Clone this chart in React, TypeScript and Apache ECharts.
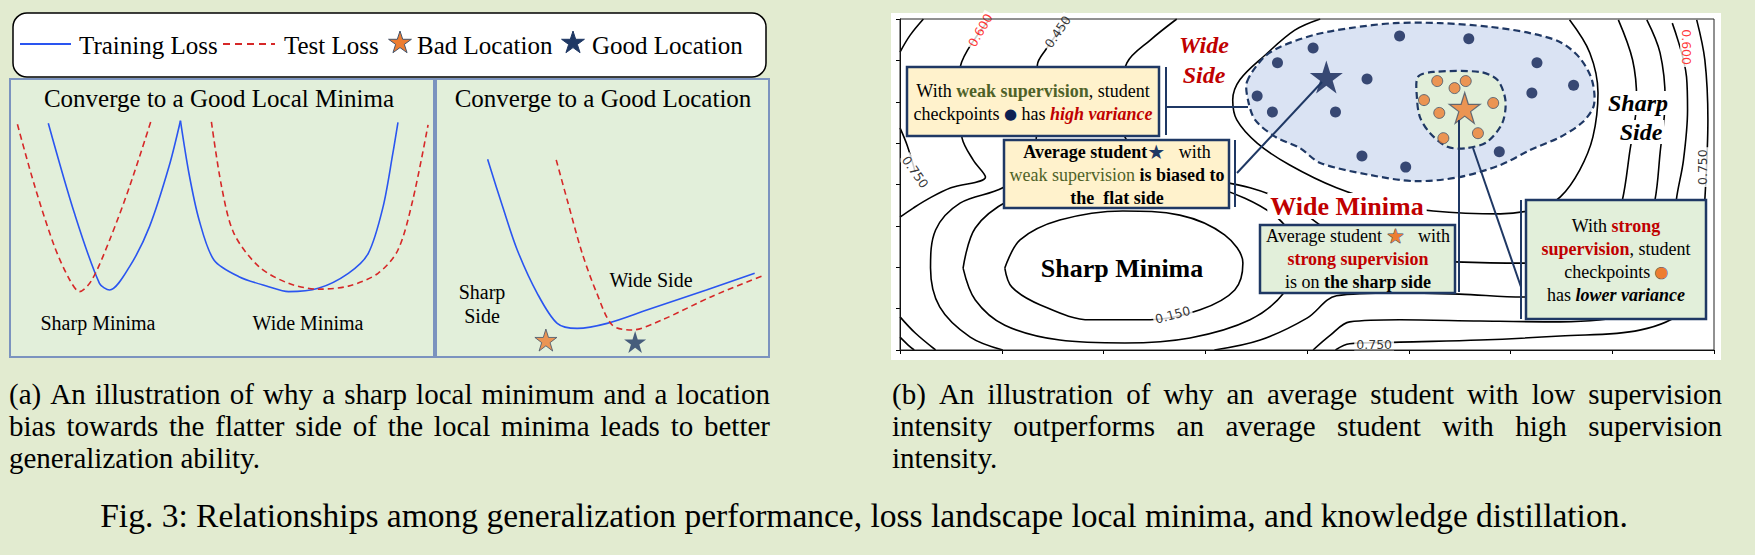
import React, { useEffect, useRef } from 'react';
import * as echarts from 'echarts';

// star outline used for markers, legend icons
const STAR_D = 'M50 0 L61.23 34.55 L97.55 34.55 L68.16 55.9 L79.39 90.45 L50 69.1 L20.61 90.45 L31.84 55.9 L2.45 34.55 L38.77 34.55 Z';
echarts.graphic.registerShape('star5', echarts.graphic.extendPath(STAR_D, {}));

const SERIF = '"Liberation Serif", "Times New Roman", serif';
const BG = '#e2ebd0';
const PANEL = '#e2efda';
const PANEL_EDGE = '#7b93bf';
const NAVY = '#1f3864';
const DOT = '#0e2152';
const ORANGE = '#ed7d31';
const RED = '#c00000';
const GREEN_TXT = '#4f6228';
const BLUE = '#2a55f0';
const DASH_RED = '#d62828';

// ---- panel (a), left: sharp vs wide minima (x, y in 0..100)
const trainSharp = [[9.03, 84.1], [15.2, 51.7], [21.1, 26.5], [23.5, 24.1], [28.2, 32.5], [32.9, 46.9], [37.5, 68.5], [40.2, 85.0]];
const trainWide = [[40.2, 85.0], [42.2, 66.1], [44.6, 49.3], [48.1, 34.9], [54.0, 28.9], [61.0, 25.3], [65.7, 23.5], [72.7, 24.7], [79.8, 30.1], [84.5, 37.3], [88.0, 54.1], [90.3, 73.3], [91.5, 84.4]];
const testSharp = [[1.75, 83.7], [5.86, 61.3], [10.5, 39.7], [14.1, 27.7], [16.4, 23.5], [19.3, 27.7], [23.5, 42.1], [28.2, 61.3], [33.2, 84.6]];
const testWide = [[47.5, 84.6], [49.9, 61.3], [52.8, 44.5], [58.7, 32.5], [65.7, 26.5], [72.7, 24.4], [79.8, 25.5], [86.8, 30.1], [91.5, 38.5], [95.0, 56.5], [98.6, 83.5]];

// ---- panel (a), right: location within the minimum
const trainLoc = [[15.5, 71.1], [20.0, 54.1], [24.4, 38.5], [30.4, 22.9], [36.4, 12.1], [42.4, 10.3], [51.4, 12.1], [63.3, 16.9], [81.2, 24.1], [95.7, 30.1]];
const testLoc = [[36.1, 70.9], [39.4, 56.5], [43.9, 37.3], [48.3, 22.9], [52.9, 11.5], [58.8, 9.7], [67.8, 13.3], [82.7, 21.7], [98.7, 29.5]];
const badLocation = [[33.0, 6.1]];
const goodLocation = [[59.8, 5.4]];

// ---- panel (b): loss landscape contours (x, y in 0..8)
const cSharp150 = [[1.03, 1.98], [1.18, 2.66], [1.57, 3.14], [2.19, 3.36], [2.75, 3.26], [3.19, 2.78], [3.37, 2.1], [3.29, 1.45], [2.95, 0.97], [2.46, 0.73], [1.87, 0.73], [1.38, 1.09], [1.1, 1.52], [1.03, 1.98]];
const cSharpRing = [[0.62, 1.98], [0.74, 2.95], [1.08, 3.63], [1.57, 4.04], [2.21, 4.18], [2.85, 4.06], [3.39, 3.67], [3.78, 3.02], [3.9, 2.18], [3.78, 1.4], [3.44, 0.73], [2.85, 0.29], [2.21, 0.17], [1.57, 0.24], [1.03, 0.6], [0.74, 1.21], [0.62, 1.98]];
const cLeft450 = [[1.65, 8.0], [1.43, 7.25], [1.35, 6.89], [1.34, 6.04], [1.34, 5.15], [1.18, 4.35], [1.01, 3.92], [0.59, 3.55], [0.35, 2.9], [0.3, 1.98], [0.39, 1.04], [0.69, 0.31], [1.01, 0]];
const cMiddle = [[2.72, 8.0], [2.46, 7.49], [2.23, 6.94], [2.16, 6.04], [2.21, 5.15], [2.46, 4.47], [2.95, 4.16], [3.44, 3.92], [3.83, 3.55], [4.13, 3.02], [4.52, 2.42], [4.91, 2.2], [5.45, 2.13], [6.12, 2.1], [6.68, 2.3], [7.0, 2.9], [7.1, 3.63], [7.17, 4.76], [7.24, 6.04], [7.2, 7.01], [7.06, 7.98]];
const cWideInner = [[4.13, 8.0], [3.88, 7.73], [3.59, 7.13], [3.34, 6.53], [3.27, 6.04], [3.31, 5.56], [3.51, 5.0], [3.83, 4.47], [4.29, 3.92], [4.77, 3.55], [5.24, 3.36], [5.9, 3.29], [6.29, 3.43], [6.49, 3.7], [6.68, 4.35], [6.81, 5.15], [6.86, 6.21], [6.78, 7.18], [6.58, 7.98]];
const cOuter1 = [[3.09, 0], [3.54, 0.24], [4.0, 0.77], [4.29, 1.31], [4.85, 1.38], [5.5, 1.35], [6.12, 1.28], [6.78, 1.45], [7.27, 2.18], [7.42, 3.63], [7.47, 4.76], [7.52, 6.04], [7.47, 7.18], [7.34, 7.98]];
const cOuter2 = [[4.06, 0], [4.23, 0.36], [4.42, 0.68], [4.91, 0.73], [5.7, 0.7], [6.49, 0.68], [7.17, 0.85], [7.47, 1.33], [7.59, 2.42], [7.63, 3.63], [7.7, 4.59], [7.74, 5.8], [7.73, 6.6], [7.59, 7.9]];
const cOuter3 = [[4.28, 0], [4.42, 0.15], [4.91, 0.19], [5.7, 0.24], [6.49, 0.34], [7.27, 0.48], [7.71, 0.97], [7.86, 1.93], [7.91, 3.63], [7.94, 5.56], [7.91, 7.01], [7.83, 7.98]];
const cLeft600 = [[0.88, 8.0], [0.67, 7.27], [0.59, 6.77], [0.59, 5.8], [0.61, 5.12], [0.72, 4.59], [0.84, 4.18], [0.5, 3.92], [0.29, 3.67], [0.13, 3.43], [0, 3.21]];
const cLeft750 = [[0, 5.37], [0.07, 4.95], [0.15, 4.3]];
const cCornerTL = [[0, 7.2], [0.1, 7.61], [0.23, 8.0]];
const cCornerBL1 = [[0, 0.8], [0.15, 0.41], [0.35, 0]];
const cCornerBL2 = [[0, 0.31], [0.08, 0.12], [0.14, 0]];
const contours = [cSharp150, cSharpRing, cLeft450, cMiddle, cWideInner, cOuter1, cOuter2, cOuter3, cLeft600, cLeft750, cCornerTL, cCornerBL1, cCornerBL2];

const labelPos = [[0.79, 7.73], [1.55, 7.69], [0.15, 4.3], [2.68, 0.85], [4.66, 0.14], [7.73, 7.32], [7.89, 4.42]];
const labelText = ['0.600', '0.450', '0.750', '0.150', '0.750', '0.600', '0.750'];
const labelAngle = [60, 55, -55, 15, 0, -90, 90];
const labelRed = [true, false, false, false, false, true, false];

// weak-supervision region and checkpoints
const weakRegion = [[3.41, 6.48], [3.57, 7.06], [3.73, 7.32], [4.06, 7.61], [4.42, 7.78], [4.86, 7.9], [5.31, 7.9], [5.8, 7.81], [6.19, 7.66], [6.49, 7.44], [6.68, 7.06], [6.8, 6.53], [6.82, 5.92], [6.71, 5.51], [6.49, 5.15], [6.19, 4.83], [5.9, 4.47], [5.5, 4.18], [5.06, 4.08], [4.62, 4.23], [4.13, 4.52], [3.93, 4.88], [3.69, 5.15], [3.49, 5.56], [3.42, 6.04]];
const weakPoints = [[4.06, 7.3], [3.71, 6.94], [3.51, 6.14], [3.66, 5.75], [4.59, 6.55], [4.28, 5.75], [4.91, 7.59], [5.59, 7.52], [6.26, 6.94], [6.21, 6.21], [6.62, 6.4], [4.54, 4.69], [4.97, 4.42], [5.89, 4.79]];
const weakAverage = [[4.19, 6.6]];
// strong-supervision region and checkpoints
const strongRegion = [[5.09, 6.6], [5.24, 6.72], [5.7, 6.72], [5.87, 6.53], [5.95, 6.04], [5.92, 5.49], [5.77, 5.03], [5.57, 4.88], [5.38, 4.91], [5.21, 5.24], [5.11, 5.63], [5.08, 6.11]];
const strongPoints = [[5.28, 6.5], [5.45, 6.33], [5.56, 6.5], [5.15, 6.04], [5.3, 5.73], [5.83, 5.97], [5.34, 5.12], [5.68, 5.24]];
const strongAverage = [[5.55, 5.85]];

const captionA = ['(a) An illustration of why a sharp local minimum and a location', 'bias towards the flatter side of the local minima leads to better', 'generalization ability.'];
const captionB = ['(b) An illustration of why an average student with low supervision', 'intensity outperforms an average student with high supervision', 'intensity.'];
const figCaption = 'Fig. 3: Relationships among generalization performance, loss landscape local minima, and knowledge distillation.';

export default function App() {
    const chartRef = useRef<HTMLDivElement | null>(null);

    useEffect(() => {
        document.body.style.margin = '0';
        if (!chartRef.current) return;
        const chart = echarts.init(chartRef.current, null, { renderer: 'svg' });

        const ctx = document.createElement('canvas').getContext('2d')!;
        const measure = (s: string, size: number) => {
            ctx.font = `${size}px "Liberation Serif"`;
            return ctx.measureText(s).width;
        };
        // justified caption lines, one text per word
        const captionLine = (line: string, x0: number, x1: number, y: number, size: number, justify: boolean) => {
            const words = line.split(' ');
            const widths = words.map(w => measure(w, size));
            const total = widths.reduce((a, b) => a + b, 0);
            const gap = justify && words.length > 1 ? (x1 - x0 - total) / (words.length - 1) : measure(' ', size);
            let x = x0;
            return words.map((w, i) => {
                const el = { type: 'text', x, y, z: 20, style: { text: w, fontSize: size, fontFamily: SERIF, fill: '#000', align: 'left', verticalAlign: 'middle' } };
                x += widths[i] + gap;
                return el;
            });
        };

        const txt = (x: number, y: number, text: string, size: number, extra: any = {}) => ({
            type: 'text', x, y, z: 20,
            style: { text, fontSize: size, fontFamily: SERIF, fill: '#000', align: 'center', verticalAlign: 'middle', ...extra },
        });
        const box = (x: number, y: number, w: number, h: number, fill: string) => ({
            type: 'rect', z: 15, shape: { x, y, width: w, height: h }, style: { fill, stroke: NAVY, lineWidth: 2.5 },
        });
        const link = (x1: number, y1: number, x2: number, y2: number) => ({
            type: 'line', z: 16, shape: { x1, y1, x2, y2 }, style: { stroke: NAVY, lineWidth: 2 },
        });
        const star = (cx: number, cy: number, size: number, fill: string, stroke: string) => ({
            type: 'star5', z: 20, x: cx - size / 2, y: cy - size / 2, scaleX: size / 100, scaleY: size / 100,
            style: { fill, stroke, lineWidth: 1, strokeNoScale: true },
        });

        const rs = { fontSize: 18, fontFamily: SERIF, lineHeight: 23 };
        const rich = {
            r: { ...rs, fill: '#000' },
            b: { ...rs, fill: '#000', fontWeight: 'bold' },
            g: { ...rs, fill: GREEN_TXT, fontWeight: 'bold' },
            gr: { ...rs, fill: GREEN_TXT },
            br: { ...rs, fill: RED, fontWeight: 'bold' },
            hv: { ...rs, fill: RED, fontWeight: 'bold', fontStyle: 'italic' },
            bi: { ...rs, fill: '#000', fontWeight: 'bold', fontStyle: 'italic' },
            dot: { ...rs, fontSize: 15, fontFamily: 'DejaVu Sans', fill: DOT },
            od: { ...rs, fontSize: 15, fontFamily: 'DejaVu Sans', fill: ORANGE, stroke: '#44546a', lineWidth: 1 },
            st: { ...rs, fontSize: 20, fontFamily: 'DejaVu Sans', fill: NAVY },
            os: { ...rs, fontSize: 20, fontFamily: 'DejaVu Sans', fill: ORANGE, stroke: '#44546a', lineWidth: 1 },
        };
        const richText = (x: number, y: number, text: string) => ({
            type: 'text', x, y, z: 20, style: { text, rich, align: 'center', verticalAlign: 'middle' },
        });

        const polygonSeries = (points: number[][], fill: string) => ({
            type: 'custom', xAxisIndex: 2, yAxisIndex: 2, z: 3, data: points,
            renderItem: (params: any, api: any) => {
                if (params.dataIndex !== 0) return null;
                return {
                    type: 'polygon',
                    shape: { points: points.map(p => api.coord(p)), smooth: 0.3 },
                    style: { fill, stroke: NAVY, lineWidth: 2.2, lineDash: [7, 4] },
                };
            },
        });

        const lossLine = (name: string, data: number[][], grid: number, dashed: boolean) => ({
            name, type: 'line', xAxisIndex: grid, yAxisIndex: grid, data, smooth: 0.3, symbol: 'none',
            lineStyle: { color: dashed ? DASH_RED : BLUE, width: 1.6, type: dashed ? [6, 4] : 'solid' },
        });

        const hiddenAxis = (gridIndex: number) => ({ type: 'value', gridIndex, min: 0, max: 100, show: false });
        const contourAxis = (gridIndex: number) => ({
            type: 'value', gridIndex, min: 0, max: 8, interval: 1,
            axisLine: { show: true, lineStyle: { color: '#000', width: 1 } },
            axisTick: { show: true, inside: false, length: 4, lineStyle: { color: '#000' } },
            axisLabel: { show: false }, splitLine: { show: false },
        });

        const option = {
            animation: false,
            backgroundColor: BG,
            grid: [
                { left: 10, top: 79, width: 424, height: 278, show: true, backgroundColor: PANEL, borderColor: PANEL_EDGE, borderWidth: 2 },
                { left: 436, top: 79, width: 333, height: 278, show: true, backgroundColor: PANEL, borderColor: PANEL_EDGE, borderWidth: 2 },
                { left: 900, top: 19, width: 814, height: 331 },
            ],
            xAxis: [hiddenAxis(0), hiddenAxis(1), contourAxis(2)],
            yAxis: [hiddenAxis(0), hiddenAxis(1), contourAxis(2)],
            series: [
                lossLine('Training Loss', trainSharp, 0, false),
                lossLine('Training Loss', trainWide, 0, false),
                lossLine('Test Loss', testSharp, 0, true),
                lossLine('Test Loss', testWide, 0, true),
                lossLine('Training Loss', trainLoc, 1, false),
                lossLine('Test Loss', testLoc, 1, true),
                {
                    name: 'Bad Location', type: 'scatter', xAxisIndex: 1, yAxisIndex: 1, data: badLocation,
                    symbol: 'path://' + STAR_D, symbolSize: 22, itemStyle: { color: ORANGE, borderColor: '#44546a', borderWidth: 1 },
                },
                {
                    name: 'Good Location', type: 'scatter', xAxisIndex: 1, yAxisIndex: 1, data: goodLocation,
                    symbol: 'path://' + STAR_D, symbolSize: 22, itemStyle: { color: NAVY },
                },
                ...contours.map((c, i) => ({
                    name: 'contour' + i, type: 'line', xAxisIndex: 2, yAxisIndex: 2, data: c, smooth: 0.35,
                    symbol: 'none', z: 2, lineStyle: { color: '#000', width: 1.6 },
                })),
                {
                    name: 'contour labels', type: 'scatter', xAxisIndex: 2, yAxisIndex: 2, z: 3, symbolSize: 1,
                    itemStyle: { color: 'rgba(0,0,0,0)' },
                    data: labelPos.map((p, i) => ({
                        value: p,
                        label: { rotate: labelAngle[i], color: labelRed[i] ? '#ff0000' : '#000' },
                    })),
                    label: {
                        show: true, position: 'inside', fontSize: 12.5, fontFamily: 'DejaVu Sans',
                        backgroundColor: '#fff', padding: [0, 2],
                        formatter: (p: any) => labelText[p.dataIndex],
                    },
                },
                polygonSeries(weakRegion, '#dae3f3'),
                polygonSeries(strongRegion, '#e2efda'),
                {
                    name: 'weak checkpoints', type: 'scatter', xAxisIndex: 2, yAxisIndex: 2, z: 4, data: weakPoints,
                    symbolSize: 11, itemStyle: { color: DOT },
                },
                {
                    name: 'strong checkpoints', type: 'scatter', xAxisIndex: 2, yAxisIndex: 2, z: 4, data: strongPoints,
                    symbolSize: 11, itemStyle: { color: ORANGE, borderColor: '#44546a', borderWidth: 1 },
                },
                {
                    name: 'weak average', type: 'scatter', xAxisIndex: 2, yAxisIndex: 2, z: 5, data: weakAverage,
                    symbol: 'path://' + STAR_D, symbolSize: 33, itemStyle: { color: DOT },
                },
                {
                    name: 'strong average', type: 'scatter', xAxisIndex: 2, yAxisIndex: 2, z: 5, data: strongAverage,
                    symbol: 'path://' + STAR_D, symbolSize: 31, itemStyle: { color: ORANGE, borderColor: '#44546a', borderWidth: 1.2 },
                },
            ],
            graphic: [
                // panel (b) white backdrop and frame
                { type: 'rect', z: -1, shape: { x: 891, y: 13, width: 830, height: 347 }, style: { fill: '#fff' } },
                { type: 'rect', z: 6, shape: { x: 900, y: 19, width: 814, height: 331 }, style: { fill: 'none', stroke: '#222', lineWidth: 1 } },

                // legend
                { type: 'rect', z: 1, shape: { x: 13, y: 13, width: 753, height: 64, r: 14 }, style: { fill: '#fff', stroke: '#000', lineWidth: 1.5 } },
                { type: 'line', z: 20, shape: { x1: 20, y1: 44, x2: 71, y2: 44 }, style: { stroke: BLUE, lineWidth: 2 } },
                txt(79, 45, 'Training Loss', 25, { align: 'left' }),
                { type: 'line', z: 20, shape: { x1: 223, y1: 44, x2: 275, y2: 44 }, style: { stroke: DASH_RED, lineWidth: 2, lineDash: [7, 5] } },
                txt(284, 45, 'Test Loss', 25, { align: 'left' }),
                star(400, 43, 24, ORANGE, '#44546a'),
                txt(417, 45, 'Bad Location', 25, { align: 'left' }),
                star(573, 43, 24, NAVY, NAVY),
                txt(592, 45, 'Good Location', 25, { align: 'left' }),

                // panel (a) texts
                txt(219, 98, 'Converge to a Good Local Minima', 25),
                txt(603, 98, 'Converge to a Good Location', 25),
                txt(98, 323, 'Sharp Minima', 20),
                txt(308, 323, 'Wide Minima', 20),
                txt(482, 292, 'Sharp', 20),
                txt(482, 316, 'Side', 20),
                txt(651, 280, 'Wide Side', 20),

                // panel (b) region names
                txt(1204, 45, 'Wide', 24, { fill: RED, fontWeight: 'bold', fontStyle: 'italic' }),
                txt(1204, 75, 'Side', 24, { fill: RED, fontWeight: 'bold', fontStyle: 'italic' }),
                txt(1638, 103, 'Sharp', 24, { fontWeight: 'bold', fontStyle: 'italic', backgroundColor: '#fff', padding: [0, 2] }),
                txt(1641, 132, 'Side', 24, { fontWeight: 'bold', fontStyle: 'italic', backgroundColor: '#fff', padding: [0, 2] }),
                txt(1347, 206, 'Wide Minima', 26, { fill: RED, fontWeight: 'bold', backgroundColor: '#fff', padding: [0, 3] }),
                txt(1122, 268, 'Sharp Minima', 26, { fontWeight: 'bold' }),

                // annotation boxes
                box(907, 67, 252, 69, '#fff2cc'),
                richText(1033, 102, '{r|With }{g|weak supervision}{r|, student}\n{r|checkpoints }{dot|●}{r| has }{hv|high variance}'),
                box(1004, 140, 225, 68, '#fff2cc'),
                richText(1117, 175, '{b|Average student}{st|★}{r|   with}\n{gr|weak supervision}{b| is biased to}\n{b|the  flat side}'),
                box(1260, 225, 195, 68, '#e2efda'),
                richText(1358, 259, '{r|Average student }{os|★}{r|   with}\n{br|strong supervision}\n{r|is on }{b|the sharp side}'),
                box(1526, 200, 180, 119, '#e2efda'),
                richText(1616, 260, '{r|With }{br|strong}\n{br|supervision}{r|, student}\n{r|checkpoints }{od|●}\n{r|has }{bi|lower variance}'),

                // connectors
                link(1166, 67, 1166, 135),
                link(1167, 107, 1248, 107),
                link(1235, 140, 1235, 207),
                link(1237, 173, 1322, 82),
                link(1459, 120, 1459, 292),
                link(1521, 200, 1521, 319),
                link(1473, 148, 1521, 287),

                // captions
                ...captionLine(captionA[0], 9, 770, 394, 29, true),
                ...captionLine(captionA[1], 9, 770, 426, 29, true),
                ...captionLine(captionA[2], 9, 770, 458, 29, false),
                ...captionLine(captionB[0], 892, 1722, 394, 29, true),
                ...captionLine(captionB[1], 892, 1722, 426, 29, true),
                ...captionLine(captionB[2], 892, 1722, 458, 29, false),
                txt(864, 515, figCaption, 33.5),
            ],
        };

        chart.setOption(option as any);
        return () => {
            chart.dispose();
        };
    }, []);

    return <div ref={chartRef} style={{ width: '1755px', height: '555px' }} />;
}
